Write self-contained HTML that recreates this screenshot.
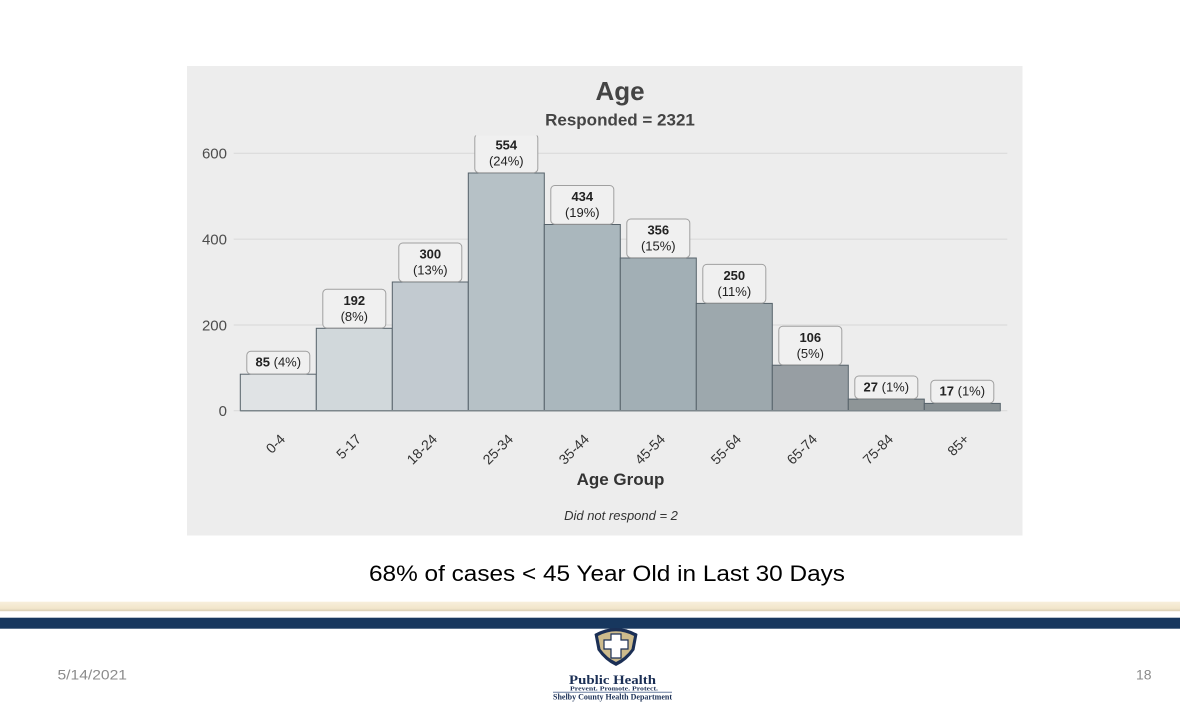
<!DOCTYPE html>
<html>
<head>
<meta charset="utf-8">
<style>
  html, body { margin: 0; padding: 0; background: #ffffff; }
  svg { display: block; }
</style>
</head>
<body>
<svg width="1180" height="703" viewBox="0 0 1180 703" xmlns="http://www.w3.org/2000/svg" font-family="Liberation Sans, Arial, sans-serif">
  <defs>
    <linearGradient id="beige" x1="0" y1="0" x2="0" y2="1">
      <stop offset="0" stop-color="#f8efdc"/>
      <stop offset="0.7" stop-color="#f2e6cb"/>
      <stop offset="1" stop-color="#d9ceb4"/>
    </linearGradient>
    <clipPath id="clipTop"><rect x="186" y="135.5" width="836" height="400"/></clipPath>
  </defs>

  <rect x="0" y="0" width="1180" height="703" fill="#ffffff"/>

  <!-- chart panel -->
  <rect x="187" y="66" width="835.5" height="469.5" fill="#ededed"/>

  <!-- title -->
  <text x="620" y="100" text-anchor="middle" font-size="26" font-weight="bold" fill="#444444">Age</text>
  <text x="620" y="125.5" text-anchor="middle" font-size="17" font-weight="bold" fill="#444444">Responded = 2321</text>

  <!-- gridlines -->
  <g stroke="#d8d8d8" stroke-width="1">
    <line x1="233.7" y1="153.3" x2="1007.3" y2="153.3"/>
    <line x1="233.7" y1="239.1" x2="1007.3" y2="239.1"/>
    <line x1="233.7" y1="325" x2="1007.3" y2="325"/>
    <line x1="233.7" y1="410.7" x2="1007.3" y2="410.7"/>
  </g>

  <!-- y tick labels -->
  <g font-size="15" fill="#4d4d4d" text-anchor="end">
    <text x="227" y="158.6">600</text>
    <text x="227" y="244.4">400</text>
    <text x="227" y="330.3">200</text>
    <text x="227" y="416">0</text>
  </g>

  <!-- bars -->
  <g stroke="#56626a" stroke-width="1">
    <rect x="240.3" y="374.2" width="76" height="36.5" fill="#e0e3e5"/>
    <rect x="316.3" y="328.3" width="76" height="82.4" fill="#d1d8db"/>
    <rect x="392.3" y="282" width="76" height="128.7" fill="#c2cad0"/>
    <rect x="468.3" y="173" width="76" height="237.7" fill="#b6c1c6"/>
    <rect x="544.3" y="224.5" width="76" height="186.2" fill="#aab7bd"/>
    <rect x="620.3" y="258" width="76" height="152.7" fill="#a2afb5"/>
    <rect x="696.3" y="303.4" width="76" height="107.3" fill="#9da8ad"/>
    <rect x="772.3" y="365.2" width="76" height="45.5" fill="#979ea3"/>
    <rect x="848.3" y="399.1" width="76" height="11.6" fill="#8e9597"/>
    <rect x="924.3" y="403.4" width="76" height="7.3" fill="#878f92"/>
  </g>
  <line x1="240.3" y1="410.7" x2="1000.3" y2="410.7" stroke="#7d878c" stroke-width="1.5"/>

  <!-- value labels -->
  <g fill="#f0f0f0" stroke="#a0a0a0" stroke-width="1">
    <rect x="246.8" y="351.3" width="63" height="22.7" rx="4"/>
    <rect x="322.8" y="289.3" width="63" height="38.7" rx="4"/>
    <rect x="398.8" y="243" width="63" height="38.7" rx="4"/>
    <rect x="474.8" y="134" width="63" height="38.7" rx="4" clip-path="url(#clipTop)"/>
    <rect x="550.8" y="185.5" width="63" height="38.7" rx="4"/>
    <rect x="626.8" y="219" width="63" height="38.7" rx="4"/>
    <rect x="702.8" y="264.4" width="63" height="38.7" rx="4"/>
    <rect x="778.8" y="326.2" width="63" height="38.7" rx="4"/>
    <rect x="854.8" y="376" width="63" height="22.7" rx="4"/>
    <rect x="930.8" y="380.3" width="63" height="22.7" rx="4"/>
  </g>
  <g font-size="13" fill="#222222" text-anchor="middle">
    <text x="278.3" y="366.7"><tspan font-weight="bold">85</tspan> (4%)</text>

    <text x="354.3" y="305" font-weight="bold">192</text>
    <text x="354.3" y="321">(8%)</text>

    <text x="430.3" y="258.7" font-weight="bold">300</text>
    <text x="430.3" y="274.7">(13%)</text>

    <text x="506.3" y="149.7" font-weight="bold">554</text>
    <text x="506.3" y="165.7">(24%)</text>

    <text x="582.3" y="201.2" font-weight="bold">434</text>
    <text x="582.3" y="217.2">(19%)</text>

    <text x="658.3" y="234.7" font-weight="bold">356</text>
    <text x="658.3" y="250.7">(15%)</text>

    <text x="734.3" y="280.1" font-weight="bold">250</text>
    <text x="734.3" y="296.1">(11%)</text>

    <text x="810.3" y="341.9" font-weight="bold">106</text>
    <text x="810.3" y="357.9">(5%)</text>

    <text x="886.3" y="391.4"><tspan font-weight="bold">27</tspan> (1%)</text>
    <text x="962.3" y="395.7"><tspan font-weight="bold">17</tspan> (1%)</text>
  </g>

  <!-- x tick labels -->
  <g font-size="14" fill="#333333" text-anchor="end">
    <text transform="translate(286,440) rotate(-45)">0-4</text>
    <text transform="translate(362,440) rotate(-45)">5-17</text>
    <text transform="translate(438,440) rotate(-45)">18-24</text>
    <text transform="translate(514,440) rotate(-45)">25-34</text>
    <text transform="translate(590,440) rotate(-45)">35-44</text>
    <text transform="translate(666,440) rotate(-45)">45-54</text>
    <text transform="translate(742,440) rotate(-45)">55-64</text>
    <text transform="translate(818,440) rotate(-45)">65-74</text>
    <text transform="translate(894,440) rotate(-45)">75-84</text>
    <text transform="translate(970,440) rotate(-45)">85+</text>
  </g>

  <!-- axis title & caption -->
  <text x="620.5" y="485" text-anchor="middle" font-size="17" font-weight="bold" fill="#333333">Age Group</text>
  <text x="621" y="520" text-anchor="middle" font-size="13" font-style="italic" fill="#333333">Did not respond = 2</text>

  <!-- subtitle below chart -->
  <text x="607" y="581" text-anchor="middle" font-size="22" fill="#000000" textLength="476" lengthAdjust="spacingAndGlyphs">68% of cases &lt; 45 Year Old in Last 30 Days</text>

  <!-- footer bands -->
  <rect x="0" y="601.7" width="1180" height="9.5" fill="url(#beige)"/>
  <rect x="0" y="617.7" width="1180" height="11" fill="#17375e"/>

  <!-- date & page number -->
  <text x="57.5" y="679.3" font-size="14" fill="#8b8b8b" textLength="69.5" lengthAdjust="spacingAndGlyphs">5/14/2021</text>
  <text x="1136" y="679.3" font-size="14" fill="#8b8b8b">18</text>

  <!-- logo -->
  <g>
    <path d="M594.5,634 Q616,622 637.5,634 L634.5,650 Q627,661 616,666 Q605,661 597.5,650 Z" fill="#1b2f55"/>
    <path d="M598,636 Q616,626.5 634,636 L631.5,649 Q625,658 616,662 Q607,658 600.5,649 Z" fill="#cdbb8c"/>
    <path d="M611,634 L621,634 L621,640 L628,640 L628,649 L621,649 L621,658 L611,658 L611,649 L604,649 L604,640 L611,640 Z" fill="#ffffff" stroke="#1b2f55" stroke-width="1.2"/>
    <text x="612.5" y="684" text-anchor="middle" font-family="Liberation Serif, serif" font-size="13" font-weight="bold" fill="#1b2f55" textLength="87" lengthAdjust="spacingAndGlyphs">Public Health</text>
    <text x="614" y="690.3" text-anchor="middle" font-family="Liberation Serif, serif" font-size="6" font-weight="bold" fill="#1b2f55" textLength="88" lengthAdjust="spacingAndGlyphs">Prevent. Promote. Protect.</text>
    <line x1="553" y1="692.2" x2="672" y2="692.2" stroke="#6a7fa0" stroke-width="1"/>
    <text x="612.5" y="699.5" text-anchor="middle" font-family="Liberation Serif, serif" font-size="8" font-weight="bold" fill="#1b2f55" textLength="119" lengthAdjust="spacingAndGlyphs">Shelby County Health Department</text>
  </g>
</svg>
</body>
</html>
